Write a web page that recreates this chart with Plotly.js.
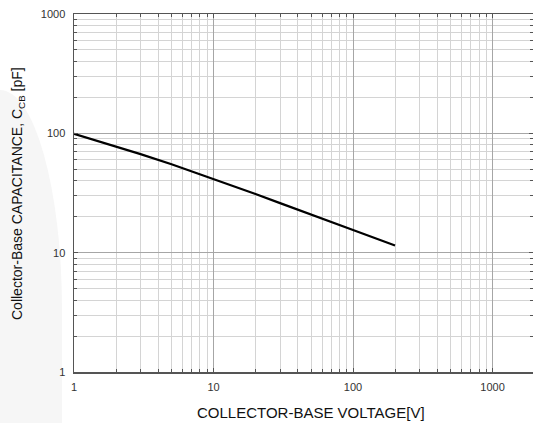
<!DOCTYPE html>
<html>
<head>
<meta charset="utf-8">
<script src="https://cdn.plot.ly/plotly-3.0.1.min.js"></script>
<style>
html,body{margin:0;padding:0;background:#ffffff;}
#wrap{position:relative;width:533px;height:423px;overflow:hidden;background:#ffffff;}
#strip{position:absolute;left:0;top:90px;width:62px;height:333px;background:#f6f6f6;border-top-right-radius:62px 220px;}
#chart{position:absolute;left:0;top:0;width:533px;height:423px;}
</style>
</head>
<body>
<div id="wrap"><div id="strip"></div><div id="chart"></div></div>
<script>
// Collector-base voltage [V]
const voltage = [1, 2, 3, 5, 10, 20, 30, 50, 100, 200];
// Collector-base capacitance [pF]
const capacitance = [99, 78, 67, 55, 41.5, 31, 26, 21, 15.5, 11.5];

const xTickVals = [1, 10, 100, 1000];
const xTickText = ['1', '10', '100', '1000'];
const yTickVals = [1, 10, 100, 1000];
const yTickText = ['1', '10', '100', '1000'];

const xTitle = 'COLLECTOR-BASE VOLTAGE[V]';
const yTitle = 'Collector-Base CAPACITANCE, C<sub>CB</sub> [pF]';

const FONT = 'Liberation Sans, Arial, sans-serif';

const trace = {
  x: voltage, y: capacitance, type: 'scatter', mode: 'lines',
  line: {color: '#000000', width: 2.2},
  hoverinfo: 'x+y', showlegend: false
};

const axisCommon = {
  type: 'log',
  showline: true, linecolor: '#555555', linewidth: 1.5,
  mirror: 'allticks',
  ticks: 'inside', ticklen: 4, tickwidth: 1, tickcolor: '#555555',
  showgrid: true, gridcolor: '#a6a6a6', gridwidth: 1,
  zeroline: false,
  tickfont: {family: FONT, size: 11, color: '#333333'},
  minor: {dtick: 'D1', ticks: 'inside', ticklen: 3, tickcolor: '#555555', showgrid: true, gridcolor: '#d4d4d4', gridwidth: 1}
};

const layout = {
  width: 533, height: 423,
  margin: {l: 74, r: 0, t: 14, b: 51, pad: 0},
  paper_bgcolor: 'rgba(0,0,0,0)',
  plot_bgcolor: '#ffffff',
  showlegend: false,
  xaxis: Object.assign({}, axisCommon, {
    range: [0, 3.29], tickmode: 'array', tickvals: xTickVals, ticktext: xTickText,
    ticklabelstandoff: 4
  }),
  yaxis: Object.assign({}, axisCommon, {
    range: [0, 3], tickmode: 'array', tickvals: yTickVals, ticktext: yTickText,
    ticklabelstandoff: 5
  }),
  annotations: [
    {text: xTitle, xref: 'paper', yref: 'paper', x: 0.5, y: 0, xshift: 7, yshift: -40,
     xanchor: 'center', yanchor: 'middle', showarrow: false,
     font: {family: FONT, size: 15, color: '#111111'}},
    {text: yTitle, xref: 'paper', yref: 'paper', x: 0, y: 0.5, xshift: -56, yshift: -1,
     xanchor: 'center', yanchor: 'middle', textangle: -90, showarrow: false,
     font: {family: FONT, size: 14, color: '#111111'}}
  ]
};

Plotly.newPlot('chart', [trace], layout, {displayModeBar: false, staticPlot: true});
</script>
</body>
</html>
